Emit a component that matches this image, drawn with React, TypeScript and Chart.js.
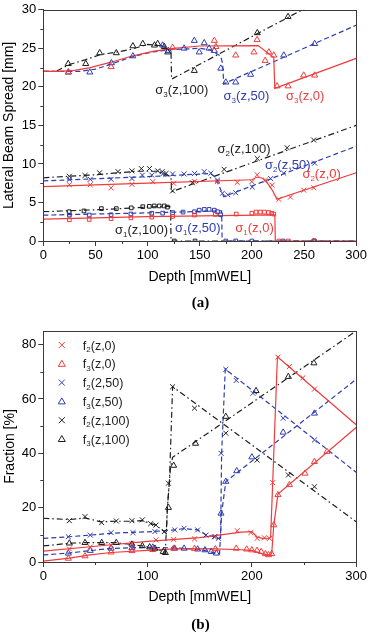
import React, { useEffect, useRef } from "react";
import { Chart, registerables } from "chart.js";
Chart.register(...registerables);

type P = [number, number];

const RED = "#ef3b3b";
const BLUE = "#2d3caf";
const BLACK = "#1e1e1e";
const AXIS = "#3a3a3a";
const FONT = '"Liberation Sans", Arial, Helvetica, sans-serif';

// ---------- Chart (a): lateral beam spread ----------
const sig3Line0: P[] = [[0,22],[15,22],[30,22.15],[45,22.5],[65,23.2],[85,24.0],[105,24.6],[125,25.0],[150,25.3],[206,25.35],[221,23.8],[222,19.8],[300,23.7]];
const sig3Line50: P[] = [[0,22],[35,22],[50,22.3],[65,22.95],[85,23.9],[105,24.55],[125,24.85],[150,25.0],[160,24.8],[170,24.0],[172,23.0],[173,20.4],[300,28.0]];
const sig3Line100: P[] = [[0,22],[12,22],[25,22.9],[40,23.5],[55,24.2],[70,24.5],[85,24.9],[100,25.5],[112,25.4],[119,25.0],[122.5,24.5],[123,21.0],[300,33.7]];
const sig2Line0: P[] = [[0,7.05],[100,7.5],[200,7.95],[205,8.3],[210,8.15],[215,7.5],[220,6.5],[224,5.4],[300,8.85]];
const sig2Line50: P[] = [[0,7.8],[100,8.35],[160,8.75],[165,8.3],[169,7.0],[173,5.75],[300,12.3]];
const sig2Line100: P[] = [[0,8.2],[50,8.6],[90,9.05],[110,9.05],[120,8.5],[122.5,8.3],[123,6.4],[300,15.0]];
const sig1Line0: P[] = [[0,2.85],[100,3.15],[222,3.4],[222.5,0],[300,0]];
const sig1Line50: P[] = [[0,3.35],[100,3.65],[168,3.9],[171,3.9],[171.5,0],[300,0]];
const sig1Line100: P[] = [[0,3.8],[60,4.1],[100,4.4],[120,4.5],[122,4.4],[122.5,0],[300,0]];

const sig3Pts0: P[] = [[24,21.9],[65,22.6],[124,25.1],[164,26.0],[165.5,25.2],[184.5,24.1],[202,24.5],[205,26.1],[212.7,23.4],[216.3,24.5],[221,24.1],[224.2,20.1],[234.7,20.1],[249.7,21.5],[260.2,21.5]];
const sig3Pts50: P[] = [[24,21.9],[44.6,21.9],[65.3,23.1],[85.9,24.0],[114.5,25.4],[120,24.7],[135,25.0],[144.8,26.0],[149.5,24.5],[154.3,25.7],[159,25.0],[164,24.7],[170.2,22.4],[175,20.6],[184.5,20.6],[198.8,21.6],[230.6,24.1],[260.2,25.6]];
const sig3Pts100: P[] = [[23.9,23.0],[40.7,23.0],[54.1,24.4],[70,24.4],[85.9,25.3],[95.4,25.6],[106.6,25.4],[109.7,25.6],[116.1,25.2],[119.3,24.5],[144.8,22.1],[205.2,27.0],[234.7,29.1]];
const sig2Pts0: P[] = [[25,7.3],[45,7.3],[65,6.9],[85,7.35],[105,7.7],[125,7.5],[145,7.7],[167,7.7],[186,7.6],[200,7.7],[205,8.6],[213,7.9],[219.5,7.25],[225.9,5.4],[237,5.7],[249.7,6.6],[259.3,6.9]];
const sig2Pts50: P[] = [[25,8.0],[45,8.0],[65,8.0],[85,8.1],[95,8.55],[104,8.55],[114.5,8.7],[124,8.7],[135,8.7],[145,8.75],[154.3,9.0],[160.7,8.8],[167,7.9],[171.8,6.2],[177,6.0],[184.5,6.26],[200.4,7.0],[218,8.1],[230.6,8.8],[260.2,10.1]];
const sig2Pts100: P[] = [[25,8.4],[40,8.5],[54,8.85],[71.6,9.0],[85,9.1],[94,9.4],[101.8,9.4],[109.7,9.1],[114,9.0],[117.7,8.77],[124,6.5],[143,7.55],[173.4,9.3],[205.2,10.7],[233.8,12.1],[259.3,13.1]];
const sig1Pts0: P[] = [[25,2.75],[44,2.8],[65,2.9],[84,3.0],[104,3.1],[124,3.2],[145,3.37],[165,3.45],[185,3.5],[200,3.6],[204,3.75],[208,3.75],[212,3.75],[216,3.7],[219,3.6],[221,3.5],[226,0],[235,0],[259.5,0]];
const sig1Pts50: P[] = [[25,3.37],[44,3.37],[65,3.4],[84,3.5],[104,3.6],[114.5,3.62],[124,3.68],[134,3.75],[145,3.8],[149.5,4.0],[154.3,4.1],[159,4.1],[164,4.0],[167,3.8],[170,3.4],[175,0],[184.5,0],[200,0],[230,0],[260,0]];
const sig1Pts100: P[] = [[24.8,3.8],[39,3.9],[55.7,4.2],[70,4.2],[84.3,4.3],[95.4,4.45],[101.7,4.5],[106.4,4.55],[111.2,4.55],[116,4.55],[119,4.4],[125.6,0],[145.5,0],[259.5,0]];

const labelsA = [
  { base: "σ", sub: "3", rest: "(z,100)", x: 132.8, y: 19.7, color: BLACK },
  { base: "σ", sub: "3", rest: "(z,50)", x: 194.8, y: 18.9, color: BLUE },
  { base: "σ", sub: "3", rest: "(z,0)", x: 251.1, y: 18.9, color: RED },
  { base: "σ", sub: "2", rest: "(z,100)", x: 192.5, y: 12.05, color: BLACK },
  { base: "σ", sub: "2", rest: "(z,50)", x: 234.4, y: 9.97, color: BLUE },
  { base: "σ", sub: "2", rest: "(z,0)", x: 266.9, y: 8.8, color: RED },
  { base: "σ", sub: "1", rest: "(z,100)", x: 94.2, y: 1.55, color: BLACK },
  { base: "σ", sub: "1", rest: "(z,50)", x: 148.1, y: 1.8, color: BLUE },
  { base: "σ", sub: "1", rest: "(z,0)", x: 202.5, y: 1.8, color: RED },
];

// ---------- Chart (b): fraction ----------
const f2Line0: P[] = [[0,4.0],[50,5.8],[100,7.6],[150,9.0],[190,11.0],[200,11.2],[205,9.2],[210,8.7],[217,8.8],[218,9.2],[220,29.5],[224.5,75.5],[300,50.5]];
const f3Line0: P[] = [[0,0.3],[25,1.4],[45,2.6],[65,3.5],[100,4.3],[130,4.9],[165,4.8],[190,4.5],[200,4.3],[210,3.0],[217,2.5],[219,3.0],[221,13.5],[225,25],[300,49.5]];
const f2Line50: P[] = [[0,8.7],[25,9.3],[45,9.9],[65,10.6],[85,10.9],[105,11.2],[125,11.8],[135,12.3],[148,11.8],[156,10.0],[164,9.3],[168,8.6],[170,9.0],[171,40],[174.5,71],[300,33]];
const f3Line50: P[] = [[0,2.6],[25,3.3],[45,4.2],[65,5.0],[100,5.4],[125,5.2],[148,4.7],[160,3.8],[166,3.2],[169,3.0],[170,10],[171,18],[175,29.6],[300,67.2]];
const f2Line100: P[] = [[0,16.1],[25,15.6],[40,16.2],[55,14.8],[70,15.0],[85,15.0],[95,15.2],[103,14.2],[108,13.5],[116,11.2],[118,10.5],[119,20],[121,30],[124,64.5],[300,14.8]];
const f3Line100: P[] = [[0,5.9],[25,6.9],[40,7.1],[56,7.1],[70,7.1],[84,6.5],[95,5.9],[107,5.0],[115,3.8],[117,3.5],[119,20],[122,35],[124,38.5],[300,85]];

const f2Pts0: P[] = [[25,4.8],[45,5.5],[65,6.2],[85,6.8],[108,8.1],[125,8.3],[145,8.5],[165,9.3],[186,11.5],[199,10.8],[205,8.7],[212,8.9],[217,8.7],[220,29.2],[225,75.4],[236,71.9],[249,67.8],[260,63.6]];
const f3Pts0: P[] = [[24,1.3],[40,2.2],[65,3.6],[85,4.1],[105,4.5],[125,5.0],[145,4.9],[165,4.8],[185,5.0],[195,4.7],[200,4.4],[205,4.2],[209,3.8],[213,3.0],[216,2.6],[219,3.0],[221,13.6],[225,24.7],[236,28.4],[251,32.6],[260,36.9],[272,40.6]];
const f2Pts50: P[] = [[24,9.3],[45,9.9],[65,10.8],[86,10.8],[107,11.2],[126,11.8],[135,12.4],[148,11.8],[156,9.9],[164,9.3],[168,8.7],[170.5,40],[175,70.9],[185,66.8],[201,62.1],[230,52.9],[260,44.9]];
const f3Pts50: P[] = [[24,3.2],[45,4.2],[65,5.0],[85,5.2],[105,5.4],[126,5.0],[135,5.0],[148,4.7],[155,4.4],[161,3.8],[166,3.2],[170.4,17.9],[175,29.6],[185.5,33.5],[200,38.6],[230,47.7],[260,54.7]];
const f2Pts100: P[] = [[25,15.2],[40,16.7],[56,14.5],[70,15.1],[85,15.2],[95,15.5],[103,14.1],[108,13.6],[116,11.2],[120,29],[124,64.5],[145,56.6],[175,47.4],[205,37.5],[235,32],[260,27.7]];
const f3Pts100: P[] = [[25,6.9],[40,7.1],[56,7.1],[70,7.1],[85,6.5],[95,5.9],[102,5.5],[107,5.0],[115,3.8],[117,3.4],[120,20],[125,35.5],[146,43.6],[175,53.5],[204,63],[235,68.2],[259.5,73.2]];

const legendB = [
  { base: "f", sub: "2", rest: "(z,0)", color: RED, style: "cross" },
  { base: "f", sub: "3", rest: "(z,0)", color: RED, style: "tri" },
  { base: "f", sub: "2", rest: "(2,50)", color: BLUE, style: "cross" },
  { base: "f", sub: "3", rest: "(z,50)", color: BLUE, style: "tri" },
  { base: "f", sub: "2", rest: "(z,100)", color: BLACK, style: "cross" },
  { base: "f", sub: "3", rest: "(z,100)", color: BLACK, style: "tri" },
];

const DASH = [5, 3];
const DASHDOT = [6, 3, 1.5, 3];

const toXY = (pts: P[]) => pts.map(([x, y]) => ({ x, y }));

function lineDs(pts: P[], color: string, dash: number[]) {
  return {
    data: toXY(pts), showLine: true, borderColor: color, borderWidth: 1.2,
    borderDash: dash, pointRadius: 0, fill: false, tension: 0,
  };
}
function markDs(pts: P[], color: string, style: string, r = 3) {
  return {
    data: toXY(pts), showLine: false, pointStyle: style, pointRadius: r,
    pointBorderColor: color, pointBackgroundColor: "rgba(0,0,0,0)", pointBorderWidth: 1,
    borderColor: color, backgroundColor: "rgba(0,0,0,0)",
  };
}

function drawSub(ctx: CanvasRenderingContext2D, cx: number, cy: number, base: string, sub: string, rest: string, size: number, color: string, align: "center" | "left") {
  const f1 = `${size}px ${FONT}`;
  const f2 = `${Math.round(size * 0.62)}px ${FONT}`;
  ctx.save();
  ctx.fillStyle = color;
  ctx.textAlign = "left";
  ctx.textBaseline = "alphabetic";
  ctx.font = f1; const w1 = ctx.measureText(base).width; const w3 = ctx.measureText(rest).width;
  ctx.font = f2; const w2 = ctx.measureText(sub).width;
  const total = w1 + w2 + w3;
  const x0 = align === "center" ? cx - total / 2 : cx;
  const by = cy + size * 0.36;
  ctx.font = f1; ctx.fillText(base, x0, by);
  ctx.font = f2; ctx.fillText(sub, x0 + w1, by + size * 0.22);
  ctx.font = f1; ctx.fillText(rest, x0 + w1 + w2, by);
  ctx.restore();
}

function framePlugin(xMinor: number[], yMinor: number[]) {
  return {
    id: "frame",
    afterDraw(chart: any) {
      const { ctx, chartArea } = chart;
      const { left, right, top, bottom } = chartArea;
      const x = chart.scales.x, y = chart.scales.y;
      ctx.save();
      ctx.strokeStyle = AXIS;
      ctx.lineWidth = 1;
      ctx.strokeRect(Math.round(left) + 0.5, Math.round(top) + 0.5, Math.round(right - left), Math.round(bottom - top));
      ctx.beginPath();
      xMinor.forEach((v) => {
        const px = Math.round(x.getPixelForValue(v)) + 0.5;
        ctx.moveTo(px, bottom); ctx.lineTo(px, bottom + 3);
      });
      yMinor.forEach((v) => {
        const py = Math.round(y.getPixelForValue(v)) + 0.5;
        ctx.moveTo(left, py); ctx.lineTo(left - 3, py);
      });
      ctx.stroke();
      ctx.restore();
    },
  };
}

function labelsPlugin(labels: typeof labelsA) {
  return {
    id: "sigLabels",
    afterDatasetsDraw(chart: any) {
      const x = chart.scales.x, y = chart.scales.y;
      labels.forEach((l) => drawSub(chart.ctx, x.getPixelForValue(l.x), y.getPixelForValue(l.y), l.base, l.sub, l.rest, 13, l.color, "center"));
    },
  };
}

function legendPlugin(items: typeof legendB) {
  return {
    id: "insideLegend",
    afterDatasetsDraw(chart: any) {
      const { ctx, chartArea } = chart;
      items.forEach((it, i) => {
        const mx = chartArea.left + 18.5;
        const my = chartArea.top + 14 + i * 18.8;
        ctx.save();
        ctx.strokeStyle = it.color;
        ctx.lineWidth = 1;
        ctx.beginPath();
        if (it.style === "cross") {
          ctx.moveTo(mx - 3, my - 3); ctx.lineTo(mx + 3, my + 3);
          ctx.moveTo(mx + 3, my - 3); ctx.lineTo(mx - 3, my + 3);
        } else {
          ctx.moveTo(mx, my - 3.5); ctx.lineTo(mx + 3.5, my + 2.5); ctx.lineTo(mx - 3.5, my + 2.5); ctx.closePath();
        }
        ctx.stroke();
        ctx.restore();
        drawSub(ctx, chartArea.left + 39.5, my, it.base, it.sub, it.rest, 12.5, BLACK, "left");
      });
    },
  };
}

function axisOpts(min: number, max: number, step: number, title: string, isX: boolean, size: number, titlePad: any) {
  return {
    type: "linear",
    min, max,
    border: { display: true, color: AXIS, width: 1 },
    grid: { display: true, drawOnChartArea: false, drawTicks: true, tickLength: 5, tickColor: AXIS },
    ticks: { stepSize: step, includeBounds: false, color: "#000", padding: 2, font: { family: FONT, size: 13 }, maxRotation: 0, autoSkip: false },
    title: { display: true, text: title, color: "#000", font: { family: FONT, size: 14 }, padding: titlePad },
    afterFit: (s: any) => { if (isX) s.height = size; else s.width = size; },
  };
}

function useChart(ref: React.RefObject<HTMLCanvasElement>, build: () => any) {
  useEffect(() => {
    if (!ref.current) return;
    const chart = new Chart(ref.current, build());
    return () => chart.destroy();
  }, []);
}

export default function App() {
  const refA = useRef<HTMLCanvasElement>(null);
  const refB = useRef<HTMLCanvasElement>(null);

  useChart(refA, () => ({
    type: "scatter",
    data: {
      datasets: [
        markDs(sig3Pts0, RED, "triangle", 3.5), markDs(sig3Pts50, BLUE, "triangle", 3.5), markDs(sig3Pts100, BLACK, "triangle", 3.5),
        markDs(sig2Pts0, RED, "crossRot", 3.5), markDs(sig2Pts50, BLUE, "crossRot", 3.5), markDs(sig2Pts100, BLACK, "crossRot", 3.5),
        markDs(sig1Pts0, RED, "rect", 2.6), markDs(sig1Pts50, BLUE, "rect", 2.6), markDs(sig1Pts100, BLACK, "rect", 2.6),
        lineDs(sig3Line0, RED, []), lineDs(sig3Line50, BLUE, DASH), lineDs(sig3Line100, BLACK, DASHDOT),
        lineDs(sig2Line0, RED, []), lineDs(sig2Line50, BLUE, DASH), lineDs(sig2Line100, BLACK, DASHDOT),
        lineDs(sig1Line0, RED, []), lineDs(sig1Line50, BLUE, DASH), lineDs(sig1Line100, BLACK, DASHDOT),
      ],
    },
    options: {
      responsive: false, animation: false,
      layout: { padding: { left: 0, right: 11.5, top: 9.3, bottom: 0 } },
      plugins: { legend: { display: false }, tooltip: { enabled: false } },
      scales: {
        x: axisOpts(0, 300, 50, "Depth [mmWEL]", true, 74, { top: 0, bottom: 29.6 }),
        y: axisOpts(0, 30, 5, "Lateral Beam Spread [mm]", false, 43.3, { top: 0.6, bottom: 0 }),
      },
    },
    plugins: [
      framePlugin([25, 75, 125, 175, 225, 275], [2.5, 7.5, 12.5, 17.5, 22.5, 27.5]),
      labelsPlugin(labelsA),
    ],
  }));

  useChart(refB, () => ({
    type: "scatter",
    data: {
      datasets: [
        markDs(f2Pts0, RED, "crossRot", 3.5), markDs(f3Pts0, RED, "triangle", 3.5),
        markDs(f2Pts50, BLUE, "crossRot", 3.5), markDs(f3Pts50, BLUE, "triangle", 3.5),
        markDs(f2Pts100, BLACK, "crossRot", 3.5), markDs(f3Pts100, BLACK, "triangle", 3.5),
        lineDs(f2Line0, RED, []), lineDs(f3Line0, RED, []),
        lineDs(f2Line50, BLUE, DASH), lineDs(f3Line50, BLUE, DASH),
        lineDs(f2Line100, BLACK, DASHDOT), lineDs(f3Line100, BLACK, DASHDOT),
      ],
    },
    options: {
      responsive: false, animation: false,
      layout: { padding: { left: 0, right: 11.7, top: 13, bottom: 0 } },
      plugins: { legend: { display: false }, tooltip: { enabled: false } },
      scales: {
        x: axisOpts(0, 300, 100, "Depth [mmWEL]", true, 72, { top: 0, bottom: 28.6 }),
        y: axisOpts(0, 85, 20, "Fraction [%]", false, 43.3, { top: 1.6, bottom: 0 }),
      },
    },
    plugins: [
      framePlugin([50, 150, 250], [10, 30, 50, 70]),
      legendPlugin(legendB),
    ],
  }));

  const cap: React.CSSProperties = {
    position: "absolute", left: 0, width: 401, textAlign: "center",
    fontFamily: '"Liberation Serif", "Times New Roman", serif', fontWeight: "bold", fontSize: 15, lineHeight: "18px",
  };

  return (
    <div style={{ position: "absolute", left: 0, top: 0, width: 369, height: 634, background: "#fff", overflow: "hidden" }}>
      <canvas ref={refA} width={369} height={315} style={{ position: "absolute", left: 0, top: 0, width: 369, height: 315 }} />
      <div style={{ ...cap, top: 293 }}>(a)</div>
      <canvas ref={refB} width={369} height={316} style={{ position: "absolute", left: 0, top: 318, width: 369, height: 316 }} />
      <div style={{ ...cap, top: 615 }}>(b)</div>
    </div>
  );
}
